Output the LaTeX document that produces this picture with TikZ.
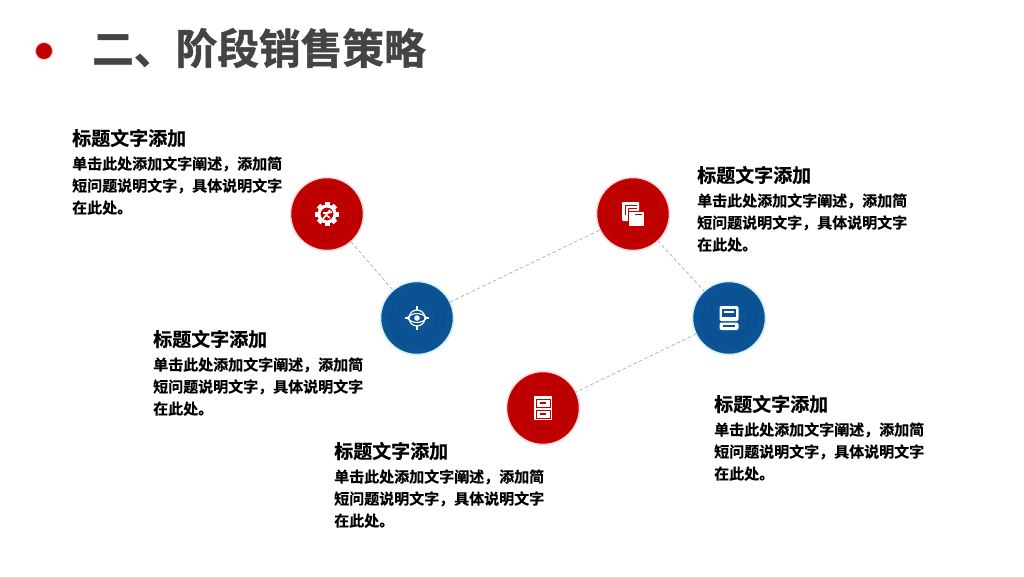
\documentclass[tikz,border=0pt]{standalone}
\usepackage{fontspec}
\setmainfont{Noto Sans CJK SC}[BoldFont={Noto Sans CJK SC Bold}]
\newfontfamily\titlefont{Noto Sans CJK SC Bold}[FakeBold=1.2]
\newfontfamily\blurbfont{Noto Sans CJK SC Bold}[FakeBold=.4]
\usetikzlibrary{positioning}
\definecolor{stagered}{HTML}{C00000}
\definecolor{stagereddk}{HTML}{B80000}
\definecolor{stageblue}{HTML}{0B5394}
\definecolor{stagebluedk}{HTML}{0A4F8E}
\definecolor{titlegrey}{HTML}{444444}
\begin{document}
\begin{tikzpicture}[
    x=1pt,y=-1pt,
    stage/.style={
      circle,
      inner sep=0pt,
      outer sep=0pt,
      minimum size=73pt,
      line width=1.5pt},
    redstage/.style={stage, fill=stagered, draw=red!15},
    bluestage/.style={stage, fill=stageblue, draw=cyan!20},
    link/.style={
      draw=gray!65,
      line width=.7pt,
      dash pattern=on 3.5pt off 2.5pt},
    headtext/.style={
      anchor=west,
      inner sep=0pt,
      font=\fontsize{19}{22}\blurbfont},
    bodytext/.style={
      anchor=north west,
      inner sep=0pt,
      align=left,
      font=\fontsize{15}{22}\blurbfont},
    icon/.style={fill=white, draw=none},
    iconline/.style={draw=white, line width=1.2pt}]
    \useasboundingbox (0,0) rectangle (1024,576);

    % title
    \node [circle, fill=stagered, draw=red!25, line width=.8pt, minimum size=17pt, inner sep=0pt] (bullet) at (44,51) {};
    \node [anchor=west, inner sep=0pt, text=titlegrey, font=\fontsize{41.7}{42}\titlefont] (title) at (92,48) {二、阶段销售策略};

    % stages
    \node [redstage]  (gear)    at (327,214) {};
    \node [bluestage] (eye)     at (417,318) {};
    \node [redstage]  (cards)   at (633,214) {};
    \node [bluestage] (book)    at (729,318) {};
    \node [redstage]  (cabinet) at (543,408) {};

    \draw [link] (gear)  -- (eye);
    \draw [link] (eye)   -- (cards);
    \draw [link] (cards) -- (book);
    \draw [link] (book)  -- (cabinet);

    % rings
    \foreach \c in {gear,cards,cabinet} {
      \draw [stagereddk, line width=2pt] (\c.center) circle (27);
      \draw [stagereddk, line width=2pt] (\c.center) circle (20);
    }
    \foreach \c in {eye,book} {
      \draw [stagebluedk, line width=2pt] (\c.center) circle (27);
      \draw [stagebluedk, line width=2pt] (\c.center) circle (20);
    }

    % icons
    \begin{scope}[shift={(gear.center)}]
      \foreach \a in {0,45,...,315}
        \fill [icon, rotate=\a] (-2.5,-12) rectangle (2.5,-8);
      \draw [white, line width=3pt] (0,0) circle (8);
      \draw [white, line width=1.6pt] (-4,5) -- (-1,1) -- (3,-4) (-1,1) -- (3,4) (-4,-1) -- (1,-1) -- (5,-2);
    \end{scope}
    \begin{scope}[shift={(eye.center)}]
      \draw [iconline] (0,0) circle (8);
      \draw [iconline] (-12,0) -- (-8,0) (8,0) -- (12,0) (0,-12) -- (0,-8) (0,8) -- (0,12);
      \draw [white, line width=1.1pt] (-10,0) .. controls (-4,-6) and (4,-6) .. (10,0) .. controls (4,6) and (-4,6) .. (-10,0);
      \fill [icon] (0,0) circle (2.8);
    \end{scope}
    \begin{scope}[shift={(cards.center)}]
      \fill [icon, rounded corners=1pt] (-11,-12) rectangle (6,7);
      \draw [stagered, line width=1pt] (-8,1) -- (-8,-9) -- (4,-9);
      \draw [stagered, line width=1pt] (-5,1) -- (-5,-6) -- (4,-6);
      \fill [icon, draw=stagered, line width=.8pt] (-5,-3) rectangle (11,12);
      \draw [stagered, line width=1.2pt] (2,0.5) -- (8.5,0.5);
    \end{scope}
    \begin{scope}[shift={(book.center)}]
      \fill [icon, rounded corners=2pt] (-9.5,-12) rectangle (9.5,3);
      \fill [stageblue] (-7,-9) rectangle (7,-1);
      \draw [iconline] (-5,-6) -- (5,-6);
      \fill [icon, rounded corners=2pt] (-9.5,4.5) rectangle (9.5,12);
      \fill [stageblue] (-6,6.5) rectangle (6,9);
    \end{scope}
    \begin{scope}[shift={(cabinet.center)}]
      \fill [icon] (-9,-12) rectangle (9,12);
      \draw [stagered, line width=.8pt] (-7,-9) rectangle (7,-1);
      \draw [stagered, line width=.8pt] (-7,2) rectangle (7,10);
      \fill [stagered] (-3,-6) rectangle (3,-4);
      \fill [stagered] (-3,5) rectangle (3,7);
    \end{scope}

    % texts
    \foreach \n/\x/\y in {a/72/138, b/153/339, c/334/451, d/697/175, e/714/404} {
      \node [headtext] (head\n) at (\x,\y) {标题文字添加};
      \node [bodytext, below=9pt of head\n.south west, anchor=north west] (body\n) {单击此处添加文字阐述，添加简\\短问题说明文字，具体说明文字\\在此处。};
    }
\end{tikzpicture}
\end{document}
